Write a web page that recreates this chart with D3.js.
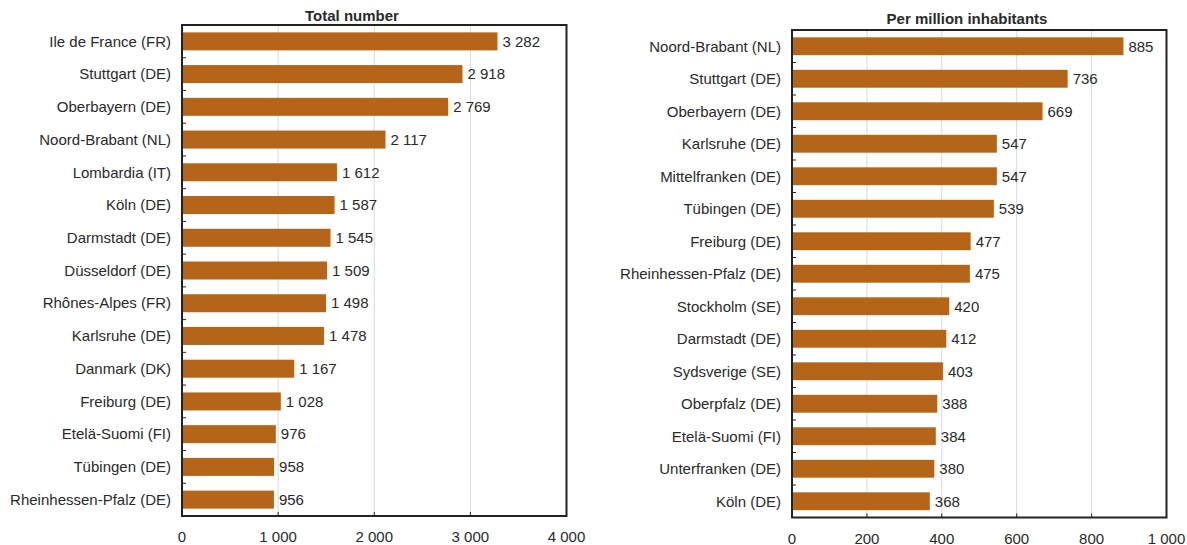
<!DOCTYPE html>
<html>
<head>
<meta charset="utf-8">
<title>Regions</title>
<script src="https://cdn.jsdelivr.net/npm/d3@7"></script>
<style>
  body { margin: 0; background: #fff; font-family: "Liberation Sans", Arial, sans-serif; }
  text { fill: #2a2a2a; }
</style>
</head>
<body>
<div id="chart"></div>
<script>
// data
const totalRegions = ["Ile de France (FR)", "Stuttgart (DE)", "Oberbayern (DE)", "Noord-Brabant (NL)",
  "Lombardia (IT)", "Köln (DE)", "Darmstadt (DE)", "Düsseldorf (DE)", "Rhônes-Alpes (FR)",
  "Karlsruhe (DE)", "Danmark (DK)", "Freiburg (DE)", "Etelä-Suomi (FI)", "Tübingen (DE)",
  "Rheinhessen-Pfalz (DE)"];
const totalValues = [3282, 2918, 2769, 2117, 1612, 1587, 1545, 1509, 1498, 1478, 1167, 1028, 976, 958, 956];
const totalTicks = [0, 1000, 2000, 3000, 4000];

const perMillionRegions = ["Noord-Brabant (NL)", "Stuttgart (DE)", "Oberbayern (DE)", "Karlsruhe (DE)",
  "Mittelfranken (DE)", "Tübingen (DE)", "Freiburg (DE)", "Rheinhessen-Pfalz (DE)", "Stockholm (SE)",
  "Darmstadt (DE)", "Sydsverige (SE)", "Oberpfalz (DE)", "Etelä-Suomi (FI)", "Unterfranken (DE)",
  "Köln (DE)"];
const perMillionValues = [885, 736, 669, 547, 547, 539, 477, 475, 420, 412, 403, 388, 384, 380, 368];
const perMillionTicks = [0, 200, 400, 600, 800, 1000];

const barColor = "#b5651a";
const fmt = v => d3.format(",")(v).replace(/,/g, "\u00a0");

const svg = d3.select("#chart").append("svg")
  .attr("width", 1187).attr("height", 545);

function panel({title, regions, values, ticks, x0, x1, y0, y1, titleX, titleY}) {
  const g = svg.append("g");
  const x = d3.scaleLinear().domain([ticks[0], ticks[ticks.length - 1]]).range([x0, x1]);
  const y = d3.scaleBand().domain(regions).range([y0, y1]).paddingInner(0.45).paddingOuter(0.225);

  // gridlines
  g.selectAll(".grid").data(ticks.slice(1, -1)).join("line")
    .attr("x1", d => x(d)).attr("x2", d => x(d))
    .attr("y1", y0).attr("y2", y1)
    .attr("stroke", "#d9d9d9").attr("stroke-width", 1);

  // bars
  g.selectAll(".bar").data(values).join("rect")
    .attr("x", x0)
    .attr("y", (d, i) => y(regions[i]))
    .attr("width", d => x(d) - x0)
    .attr("height", y.bandwidth())
    .attr("fill", barColor);

  // value labels
  g.selectAll(".val").data(values).join("text")
    .attr("x", d => x(d) + 5)
    .attr("y", (d, i) => y(regions[i]) + y.bandwidth() / 2)
    .attr("dy", "0.35em")
    .style("font-size", "15px")
    .text(d => fmt(d));

  // category labels
  g.selectAll(".cat").data(regions).join("text")
    .attr("x", x0 - 11)
    .attr("y", d => y(d) + y.bandwidth() / 2)
    .attr("dy", "0.35em")
    .attr("text-anchor", "end")
    .style("font-size", "15px")
    .text(d => d);

  // small ticks between categories on the left axis
  const step = y.step();
  g.selectAll(".ytick").data(regions.slice(1)).join("line")
    .attr("x1", x0).attr("x2", x0 + 4)
    .attr("y1", d => y(d) - (step - y.bandwidth()) / 2)
    .attr("y2", d => y(d) - (step - y.bandwidth()) / 2)
    .attr("stroke", "#222").attr("stroke-width", 1);

  // ticks on the bottom axis
  g.selectAll(".xtick").data(ticks.slice(1, -1)).join("line")
    .attr("x1", d => x(d)).attr("x2", d => x(d))
    .attr("y1", y1).attr("y2", y1 - 4)
    .attr("stroke", "#222").attr("stroke-width", 1);

  g.selectAll(".xlab").data(ticks).join("text")
    .attr("x", d => x(d))
    .attr("y", y1 + 26)
    .attr("text-anchor", "middle")
    .style("font-size", "15px")
    .text(d => fmt(d));

  // frame
  g.append("rect")
    .attr("x", x0).attr("y", y0)
    .attr("width", x1 - x0).attr("height", y1 - y0)
    .attr("fill", "none").attr("stroke", "#222").attr("stroke-width", 2);

  g.append("text")
    .attr("x", titleX).attr("y", titleY)
    .attr("text-anchor", "middle")
    .style("font-size", "15px").style("font-weight", "bold")
    .text(title);
}

panel({title: "Total number", regions: totalRegions, values: totalValues, ticks: totalTicks,
  x0: 182, x1: 566.5, y0: 25, y1: 516, titleX: 352, titleY: 21});
panel({title: "Per million inhabitants", regions: perMillionRegions, values: perMillionValues, ticks: perMillionTicks,
  x0: 792, x1: 1166.5, y0: 30, y1: 517.5, titleX: 967, titleY: 24});
</script>
</body>
</html>
